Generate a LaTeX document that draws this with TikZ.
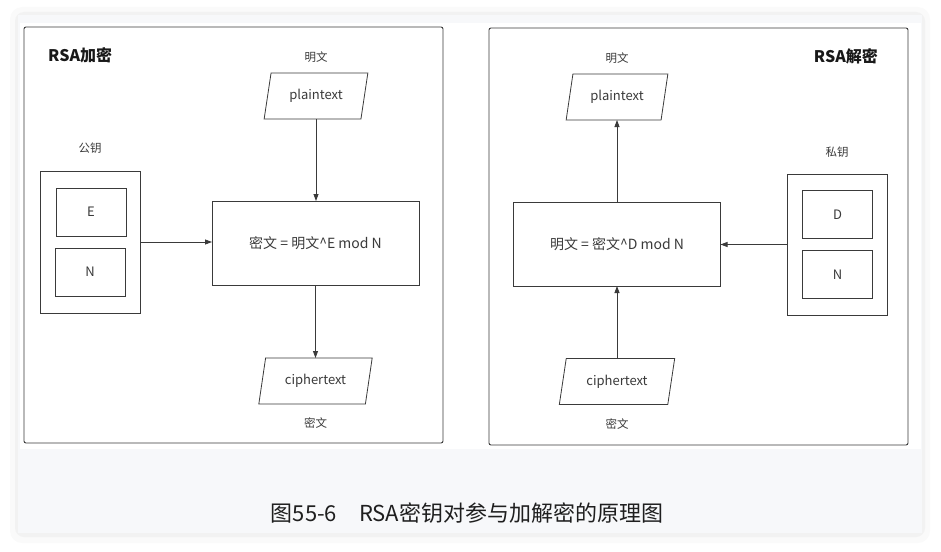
\documentclass[tikz,border=0pt]{standalone}
\usepackage{fontspec}
\setmainfont{Noto Sans CJK SC}
\usetikzlibrary{shapes.geometric, arrows.meta, positioning}
\definecolor{cardgrey}{HTML}{F7F8FA}
\definecolor{inkgrey}{HTML}{3A3A3A}

\begin{document}
\begin{tikzpicture}[x=1pt, y=-1pt,
    node distance=8pt,
    panel/.style = {draw=inkgrey, line width=0.9pt, rounded corners=2pt},
    calc/.style = {rectangle, draw=inkgrey, line width=0.8pt, minimum width=207pt, minimum height=84pt, outer sep=0pt, text=inkgrey, font=\fontsize{14}{16}\selectfont},
    iobox/.style = {trapezium, trapezium left angle=77, trapezium right angle=103, trapezium stretches=true, draw=inkgrey, line width=0.8pt, minimum width=104pt, minimum height=46pt, outer sep=0pt, text=inkgrey, font=\fontsize{13}{15}\selectfont},
    keybox/.style = {rectangle, draw=inkgrey, line width=0.9pt, minimum width=100pt, minimum height=142pt, outer sep=0pt},
    keypart/.style = {rectangle, draw=inkgrey, line width=0.8pt, minimum width=70pt, minimum height=48pt, text=inkgrey, font=\fontsize{13}{15}\selectfont},
    tag/.style = {inner sep=0pt, text=inkgrey, font=\fontsize{11.5}{14}\selectfont},
    heading/.style = {inner sep=0pt, text=black!90, font=\fontsize{16}{19}\selectfont\bfseries},
    >={Triangle[length=7pt,width=5pt]}]

    \useasboundingbox (0,0) rectangle (941,551);
    \fill[black!2, rounded corners=12pt] (10,7) rectangle (930,543);
    \fill[black!5, rounded corners=9pt] (15,12) rectangle (925,537);
    \fill[cardgrey] (18,15) rectangle (922,533);
    \fill[white] (20,23) rectangle (921,449);

    \draw[panel] (24,27) rectangle (443,443);
    \draw[panel] (489,28) rectangle (908,445);

    \node[heading, anchor=west] (encTitle) at (48,55) {RSA加密};
    \node[iobox] (encPlain) at (316,96) {\raisebox{-2pt}{plaintext}};
    \node[tag, above=10pt of encPlain] (encPlainTag) {明文};
    \node[calc] (encCalc) at (315.5,243) {密文 = 明文\^{}E mod N};
    \node[keybox] (encKey) at (90,242) {};
    \node[keypart] (keyE) at (91,212) {E};
    \node[keypart] (keyNa) at (90,272) {N};
    \node[tag, above=17pt of encKey] (encKeyTag) {公钥};
    \node[iobox, minimum width=114pt] (encCipher) at (315.5,381) {\raisebox{-2pt}{ciphertext}};
    \node[tag, below=14pt of encCipher] (encCipherTag) {密文};

    \node[heading, anchor=east] (decTitle) at (878,56) {RSA解密};
    \node[iobox, minimum width=102pt] (decPlain) at (617,97) {\raisebox{-2pt}{plaintext}};
    \node[tag, above=10pt of decPlain] (decPlainTag) {明文};
    \node[calc] (decCalc) at (617,244) {明文 = 密文\^{}D mod N};
    \node[keybox, minimum height=141pt] (decKey) at (837,244.5) {};
    \node[keypart] (keyD) at (837.5,214.5) {D};
    \node[keypart] (keyNb) at (837.5,274.5) {N};
    \node[tag, above=16pt of decKey] (decKeyTag) {私钥};
    \node[iobox, minimum width=116pt] (decCipher) at (617,381.5) {\raisebox{-2pt}{ciphertext}};
    \node[tag, below=14pt of decCipher] (decCipherTag) {密文};

    \draw[->, draw=inkgrey, line width=0.8pt] (encPlain.south) -- (encPlain.south |- encCalc.north);
    \draw[->, draw=inkgrey, line width=0.8pt] (encKey.east) -- (encKey.east -| encCalc.west);
    \draw[->, draw=inkgrey, line width=0.8pt] (encCalc.south) -- (encCalc.south |- encCipher.north);
    \draw[->, draw=inkgrey, line width=0.8pt] (decCalc.north) -- (decCalc.north |- decPlain.south);
    \draw[->, draw=inkgrey, line width=0.8pt] (decKey.west) -- (decKey.west -| decCalc.east);
    \draw[->, draw=inkgrey, line width=0.8pt] (decCipher.north) -- (decCipher.north |- decCalc.south);

    \node[text=black!88, font=\fontsize{22}{26}\selectfont] (caption) at (467,513) {图55-6\quad RSA密钥对参与加解密的原理图};
\end{tikzpicture}
\end{document}
